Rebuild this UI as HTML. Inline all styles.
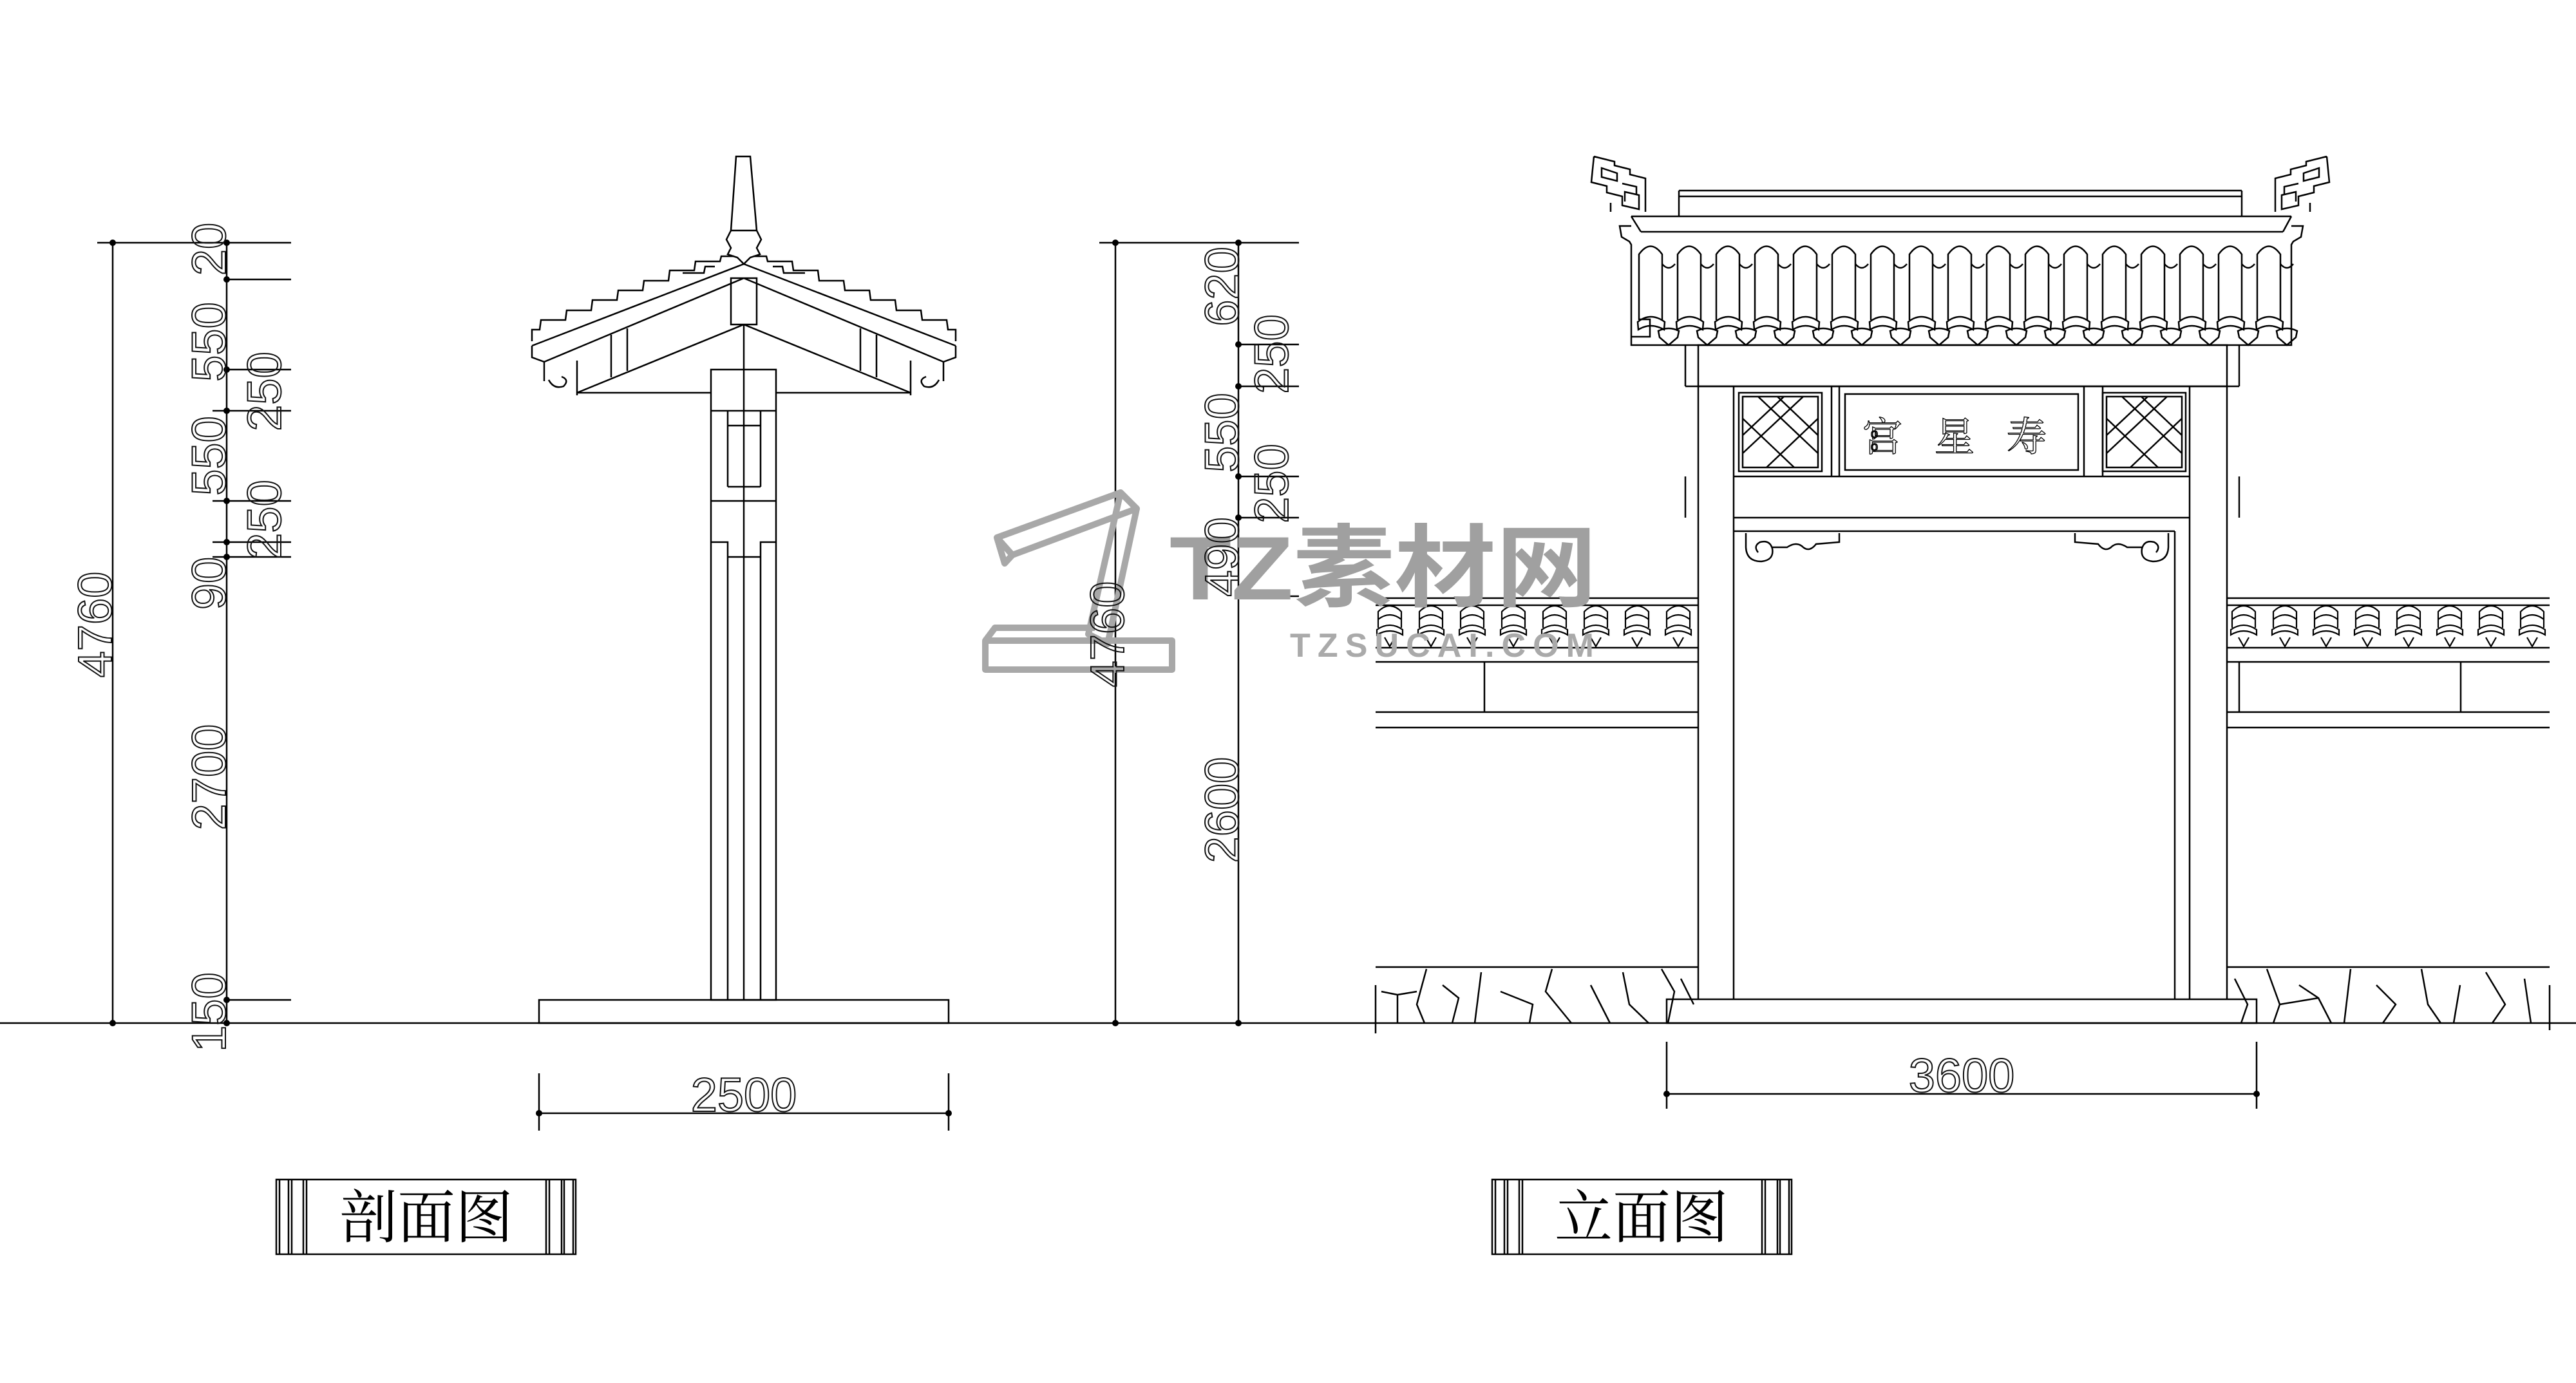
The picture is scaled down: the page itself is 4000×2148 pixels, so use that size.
<!DOCTYPE html>
<html><head><meta charset="utf-8"><style>
html,body{margin:0;padding:0;background:#fff;}
svg{display:block;}
.d{font-family:"Liberation Sans",sans-serif;font-size:74px;fill:none;stroke:#111;stroke-width:2;}
.c{font-family:"Liberation Serif","Noto Serif CJK SC",serif;font-size:90px;fill:#000;}
</style></head><body>
<svg width="4000" height="2148" viewBox="0 0 4000 2148" xmlns="http://www.w3.org/2000/svg">
<defs>
<g id="tile" fill="none" stroke="#000" stroke-width="2.5">
<path d="M0,497 L0,395 Q18,370 36,395 L36,497"/>
<path d="M-2,500 Q18,484 40,500 L39,512 Q18,500 -1,512 Z"/>
<path d="M30,514 Q46,506 62,514 L60,524 L46,536 L32,524 Z"/>
<path d="M36,410 Q46,422 56,410"/>
</g>
<g id="wt" fill="none" stroke="#000" stroke-width="2.2">
<path d="M4,975 L4,950 Q22,932 40,950 L40,975 M4,962 Q22,948 40,962 M2,978 Q22,964 42,978 L42,986 Q22,974 2,986 Z M14,990 L22,1004 L30,990"/>
</g>
<g id="orn" fill="none" stroke="#000" stroke-width="2.5">
<path d="M0,0 L32,8 L32,14 L56,20 L56,28 L80,34 L80,86 M0,0 L-4,40 L20,46 L20,56 L44,62 L44,76 L70,82 L70,60 L48,55 L48,70 M12,18 L12,32 L36,38 L36,26 Z M44,42 L66,47 L66,60 M26,86 L26,72"/>
</g>
</defs>
<g fill="none" stroke="#000" stroke-width="2.5">
<line x1="0" y1="1589" x2="4000" y2="1589"/>

<line x1="175" y1="377" x2="175" y2="1589"/>
<line x1="352" y1="377" x2="352" y2="1589"/>
<line x1="151" y1="377" x2="452" y2="377"/>
<line x1="352" y1="434" x2="452" y2="434"/>
<line x1="352" y1="574" x2="452" y2="574"/>
<line x1="330" y1="638" x2="452" y2="638"/>
<line x1="330" y1="778" x2="452" y2="778"/>
<line x1="330" y1="842" x2="452" y2="842"/>
<line x1="330" y1="865" x2="452" y2="865"/>
<line x1="352" y1="1553" x2="452" y2="1553"/>

<line x1="1732" y1="377" x2="1732" y2="1589"/>
<line x1="1923" y1="377" x2="1923" y2="1589"/>
<line x1="1707" y1="377" x2="2017" y2="377"/>
<line x1="1923" y1="535" x2="2017" y2="535"/>
<line x1="1923" y1="600" x2="2017" y2="600"/>
<line x1="1923" y1="740" x2="2017" y2="740"/>
<line x1="1923" y1="804" x2="2017" y2="804"/>
<line x1="1923" y1="926" x2="2017" y2="926"/>

<line x1="837" y1="1667" x2="837" y2="1756"/>
<line x1="1473" y1="1667" x2="1473" y2="1756"/>
<line x1="837" y1="1729" x2="1473" y2="1729"/>
<line x1="2588" y1="1618" x2="2588" y2="1722"/>
<line x1="3504" y1="1618" x2="3504" y2="1722"/>
<line x1="2588" y1="1699" x2="3504" y2="1699"/>

<!-- PAVILION -->
<path d="M1143,243 L1165,243 L1175,358 L1135,358 Z"/>
<path d="M1135,358 L1128,372 L1135,385 L1130,395 L1145,400 L1155,410 L1165,400 L1180,395 L1175,385 L1182,372 L1175,358"/>
<line x1="1155" y1="410" x2="826" y2="537"/>
<line x1="1155" y1="410" x2="1484" y2="537"/>
<line x1="1155" y1="432" x2="845" y2="562"/>
<line x1="1155" y1="432" x2="1465" y2="562"/>
<path d="M826,537 L826,555 L845,562 L845,592"/>
<path d="M1484,537 L1484,555 L1465,562 L1465,592"/>
<rect x="1135" y="432" width="40" height="72"/>
<line x1="1155" y1="504" x2="896" y2="610"/>
<line x1="1155" y1="504" x2="1414" y2="610"/>
<line x1="896" y1="610" x2="1104" y2="610"/>
<line x1="1205" y1="610" x2="1414" y2="610"/>
<line x1="896" y1="560" x2="896" y2="614"/>
<line x1="1414" y1="560" x2="1414" y2="614"/>
<line x1="949" y1="520" x2="949" y2="586"/><line x1="974" y1="510" x2="974" y2="576"/>
<line x1="1361" y1="520" x2="1361" y2="586"/><line x1="1336" y1="510" x2="1336" y2="576"/>
<path d="M852,590 Q860,605 875,600 Q885,590 872,585"/>
<path d="M1458,590 Q1450,605 1435,600 Q1425,590 1438,585"/>
<path d="M1140,398 L1120,398 L1118,406 L1080,406 L1078,420 L1040,420 L1038,436 L1000,436 L998,451 L960,451 L958,466 L920,466 L918,482 L880,482 L878,497 L840,497 L838,512 L826,512 L826,530"/>
<path d="M1170,398 L1190,398 L1192,406 L1230,406 L1232,420 L1270,420 L1272,436 L1310,436 L1312,451 L1350,451 L1352,466 L1390,466 L1392,482 L1430,482 L1432,497 L1470,497 L1472,512 L1484,512 L1484,530"/>
<path d="M1110,414 L1095,414 L1093,424 L1060,424 M1200,414 L1215,414 L1217,424 L1250,424"/>
<rect x="1104" y="574" width="101" height="979"/>
<line x1="1155" y1="504" x2="1155" y2="1553"/>
<line x1="1130" y1="638" x2="1130" y2="756"/><line x1="1181" y1="638" x2="1181" y2="756"/>
<line x1="1104" y1="638" x2="1205" y2="638"/>
<line x1="1130" y1="661" x2="1181" y2="661"/>
<line x1="1130" y1="756" x2="1181" y2="756"/>
<line x1="1104" y1="778" x2="1205" y2="778"/>
<path d="M1104,842 L1130,842 L1130,1553 M1205,842 L1181,842 L1181,1553"/>
<line x1="1130" y1="865" x2="1181" y2="865"/>
<rect x="837" y="1553" width="636" height="36"/>

<!-- GATE ROOF -->
<line x1="2607" y1="296" x2="3481" y2="296"/>
<line x1="2607" y1="305" x2="3481" y2="305"/>
<line x1="2607" y1="296" x2="2607" y2="336"/><line x1="3481" y1="296" x2="3481" y2="336"/>
<path d="M2533,336 L3558,336 M2548,360 L3545,360 M2533,336 L2548,360 M3558,336 L3545,360"/>
<path d="M2533,351 L2515,351 L2518,368 L2530,375 L2533,380 L2533,536 L3558,536 L3558,380 L3561,375 L3573,368 L3576,351 L3558,351"/>
<path d="M2545,496 L2562,496 L2562,523 L2533,523"/>
</g>
<use href="#orn" transform="translate(2475,243)"/>
<use href="#orn" transform="translate(3613,243) scale(-1,1)"/>
<g>
<use href="#tile" x="2545"/><use href="#tile" x="2605"/><use href="#tile" x="2665"/><use href="#tile" x="2725"/>
<use href="#tile" x="2785"/><use href="#tile" x="2845"/><use href="#tile" x="2905"/><use href="#tile" x="2965"/>
<use href="#tile" x="3025"/><use href="#tile" x="3085"/><use href="#tile" x="3145"/><use href="#tile" x="3205"/>
<use href="#tile" x="3265"/><use href="#tile" x="3325"/><use href="#tile" x="3385"/><use href="#tile" x="3445"/>
<use href="#tile" x="3505"/>
</g>
<g fill="none" stroke="#000" stroke-width="2.5">
<rect x="2637" y="536" width="821" height="64"/>
<line x1="2617" y1="536" x2="2617" y2="600"/><line x1="3477" y1="536" x2="3477" y2="600"/>
<line x1="2617" y1="600" x2="3477" y2="600"/>
<line x1="2617" y1="740" x2="2617" y2="804"/><line x1="3477" y1="740" x2="3477" y2="804"/>
<line x1="2637" y1="600" x2="2637" y2="1552"/>
<line x1="2692" y1="600" x2="2692" y2="1552"/>
<line x1="3400" y1="600" x2="3400" y2="1552"/>
<line x1="3458" y1="600" x2="3458" y2="1552"/>
<line x1="3377" y1="825" x2="3377" y2="1552"/>
<line x1="2692" y1="740" x2="3400" y2="740"/>
<line x1="2692" y1="804" x2="3400" y2="804"/>
<line x1="2692" y1="825" x2="3377" y2="825"/>
<line x1="2844" y1="600" x2="2844" y2="740"/><line x1="2856" y1="600" x2="2856" y2="740"/>
<line x1="3236" y1="600" x2="3236" y2="740"/><line x1="3265" y1="600" x2="3265" y2="740"/>
<rect x="2865" y="612" width="362" height="118"/>
<rect x="2700" y="610" width="129" height="122"/>
<rect x="2706" y="616" width="117" height="110"/>
<path d="M2730,616 L2823,704 M2706,650 L2786,726 M2760,616 L2823,676 M2800,616 L2706,704 M2823,650 L2743,726 M2770,616 L2706,676"/>
<rect x="3265" y="610" width="129" height="122"/>
<rect x="3271" y="616" width="117" height="110"/>
<path d="M3295,616 L3388,704 M3271,650 L3351,726 M3325,616 L3388,676 M3365,616 L3271,704 M3388,650 L3308,726 M3335,616 L3271,676"/>
<path d="M2711,828 L2711,850 Q2712,872 2735,872 Q2755,870 2752,852 Q2748,838 2733,842 Q2722,848 2730,858 M2752,850 L2775,850 Q2790,840 2800,850 Q2810,858 2820,845 L2856,842 L2856,828"/>
<path d="M3367,828 L3367,850 Q3366,872 3343,872 Q3323,870 3326,852 Q3330,838 3345,842 Q3356,848 3348,858 M3326,850 L3303,850 Q3288,840 3278,850 Q3268,858 3258,845 L3222,842 L3222,828"/>
<rect x="2588" y="1552" width="916" height="37"/>
<line x1="2136" y1="929" x2="2637" y2="929"/>
<line x1="2136" y1="940" x2="2637" y2="940"/>
<line x1="2136" y1="1028" x2="2637" y2="1028"/>
<line x1="2136" y1="1106" x2="2637" y2="1106"/>
<line x1="2136" y1="1130" x2="2637" y2="1130"/>
<line x1="2305" y1="1028" x2="2305" y2="1106"/>
<line x1="2136" y1="1502" x2="2637" y2="1502"/>
<line x1="2136" y1="1530" x2="2136" y2="1605"/>
<path d="M2145,1540 L2170,1545 L2170,1589 M2215,1505 L2200,1560 L2212,1589 M2240,1530 L2265,1550 L2255,1589 M2300,1510 L2290,1589 M2330,1540 L2380,1560 L2375,1589 M2410,1505 L2400,1540 L2440,1589 M2470,1530 L2500,1589 M2520,1510 L2530,1560 L2560,1589 M2580,1505 L2600,1540 L2590,1589 M2610,1520 L2630,1560 M2170,1545 L2200,1540"/>
<line x1="3458" y1="929" x2="3959" y2="929"/>
<line x1="3458" y1="940" x2="3959" y2="940"/>
<line x1="3458" y1="1028" x2="3959" y2="1028"/>
<line x1="3458" y1="1106" x2="3959" y2="1106"/>
<line x1="3458" y1="1130" x2="3959" y2="1130"/>
<line x1="3477" y1="1028" x2="3477" y2="1106"/>
<line x1="3821" y1="1028" x2="3821" y2="1106"/>
<line x1="3458" y1="1502" x2="3959" y2="1502"/>
<line x1="3959" y1="1530" x2="3959" y2="1600"/>
<path d="M3470,1520 L3490,1560 L3480,1589 M3520,1505 L3540,1560 L3530,1589 M3570,1530 L3600,1550 L3620,1589 M3650,1505 L3640,1589 M3690,1530 L3720,1560 L3700,1589 M3760,1505 L3770,1560 L3790,1589 M3820,1530 L3810,1589 M3860,1510 L3890,1560 L3870,1589 M3920,1520 L3930,1589 M3540,1560 L3600,1550"/>
</g>
<g>
<use href="#wt" x="2136"/><use href="#wt" x="2200"/><use href="#wt" x="2264"/><use href="#wt" x="2328"/>
<use href="#wt" x="2392"/><use href="#wt" x="2456"/><use href="#wt" x="2520"/><use href="#wt" x="2584"/>
<use href="#wt" x="3462"/><use href="#wt" x="3526"/><use href="#wt" x="3590"/><use href="#wt" x="3654"/>
<use href="#wt" x="3718"/><use href="#wt" x="3782"/><use href="#wt" x="3846"/><use href="#wt" x="3910"/>
</g>
<line x1="2136" y1="1006" x2="2637" y2="1006" stroke="#000" stroke-width="2.5"/>
<line x1="3458" y1="1006" x2="3959" y2="1006" stroke="#000" stroke-width="2.5"/>

<g fill="#000">
<circle cx="175" cy="377" r="5"/><circle cx="175" cy="1589" r="5"/>
<circle cx="352" cy="377" r="5"/><circle cx="352" cy="434" r="5"/><circle cx="352" cy="574" r="5"/>
<circle cx="352" cy="638" r="5"/><circle cx="352" cy="778" r="5"/><circle cx="352" cy="842" r="5"/>
<circle cx="352" cy="865" r="5"/><circle cx="352" cy="1553" r="5"/><circle cx="352" cy="1589" r="5"/>
<circle cx="1732" cy="377" r="5"/><circle cx="1732" cy="1589" r="5"/>
<circle cx="1923" cy="377" r="5"/><circle cx="1923" cy="535" r="5"/><circle cx="1923" cy="600" r="5"/>
<circle cx="1923" cy="740" r="5"/><circle cx="1923" cy="804" r="5"/><circle cx="1923" cy="926" r="5"/>
<circle cx="1923" cy="1589" r="5"/>
<circle cx="837" cy="1729" r="5"/><circle cx="1473" cy="1729" r="5"/>
<circle cx="2588" cy="1699" r="5"/><circle cx="3504" cy="1699" r="5"/>
</g>

<g fill="none" stroke="#a8a8a8" stroke-width="10" stroke-linejoin="round">
<path d="M1548,835 L1740,765 L1765,790 L1572,862 Z M1548,835 L1560,875 L1572,862"/>
<path d="M1740,765 L1765,790 L1720,1000 L1690,985 Z"/>
<path d="M1530,995 L1820,995 L1820,1040 L1530,1040 Z M1530,995 L1545,975 L1700,975"/>
</g>
<text x="1816" y="931" font-family="Liberation Sans,'Noto Sans CJK SC',sans-serif" font-size="140" font-weight="bold" fill="#a0a0a0" textLength="664" lengthAdjust="spacingAndGlyphs">TZ素材网</text>
<text x="2003" y="1020" font-family="Liberation Sans,sans-serif" font-size="52" font-weight="bold" fill="#aaa" textLength="472" lengthAdjust="spacing">TZSUCAI.COM</text>

<g class="d">
<text transform="translate(350,387) rotate(-90)" text-anchor="middle">20</text>
<text transform="translate(350,531) rotate(-90)" text-anchor="middle">550</text>
<text transform="translate(350,708) rotate(-90)" text-anchor="middle">550</text>
<text transform="translate(350,906) rotate(-90)" text-anchor="middle">90</text>
<text transform="translate(350,1207) rotate(-90)" text-anchor="middle">2700</text>
<text transform="translate(350,1572) rotate(-90)" text-anchor="middle">150</text>
<text transform="translate(436,608) rotate(-90)" text-anchor="middle">250</text>
<text transform="translate(436,807) rotate(-90)" text-anchor="middle">250</text>
<text transform="translate(173,970) rotate(-90)" text-anchor="middle">4760</text>
<text transform="translate(1923,445) rotate(-90)" text-anchor="middle">620</text>
<text transform="translate(1923,672) rotate(-90)" text-anchor="middle">550</text>
<text transform="translate(1923,865) rotate(-90)" text-anchor="middle">490</text>
<text transform="translate(1923,1258) rotate(-90)" text-anchor="middle">2600</text>
<text transform="translate(2000,550) rotate(-90)" text-anchor="middle">250</text>
<text transform="translate(2000,751) rotate(-90)" text-anchor="middle">250</text>
<text transform="translate(1745,985) rotate(-90)" text-anchor="middle">4760</text>
<text x="1155" y="1726" text-anchor="middle">2500</text>
<text x="3046" y="1696" text-anchor="middle">3600</text>
</g>
<text x="3060" y="700" text-anchor="middle" font-family="'Noto Serif CJK SC',serif" font-size="62" fill="none" stroke="#000" stroke-width="1.3" letter-spacing="50">宫星寿</text>
<text x="2905" y="700" font-family="Liberation Sans,sans-serif" font-size="20" fill="none" stroke="#000" stroke-width="1.5">o</text>
<text x="2905" y="680" font-family="Liberation Sans,sans-serif" font-size="20" fill="none" stroke="#000" stroke-width="1.5">o</text>

<g fill="none" stroke="#000" stroke-width="2.5">
<rect x="429" y="1832" width="465" height="116"/>
<path d="M434,1832 V1948 M448,1832 V1948 M453,1832 V1948 M471,1832 V1948 M476,1832 V1948 M848,1832 V1948 M853,1832 V1948 M872,1832 V1948 M876,1832 V1948 M890,1832 V1948"/>
<rect x="2317" y="1832" width="465" height="116"/>
<path d="M2322,1832 V1948 M2336,1832 V1948 M2341,1832 V1948 M2359,1832 V1948 M2364,1832 V1948 M2736,1832 V1948 M2741,1832 V1948 M2760,1832 V1948 M2764,1832 V1948 M2778,1832 V1948"/>
</g>
<text class="c" x="662" y="1922" text-anchor="middle">剖面图</text>
<text class="c" x="2549" y="1922" text-anchor="middle">立面图</text>
</svg>
</body></html>
